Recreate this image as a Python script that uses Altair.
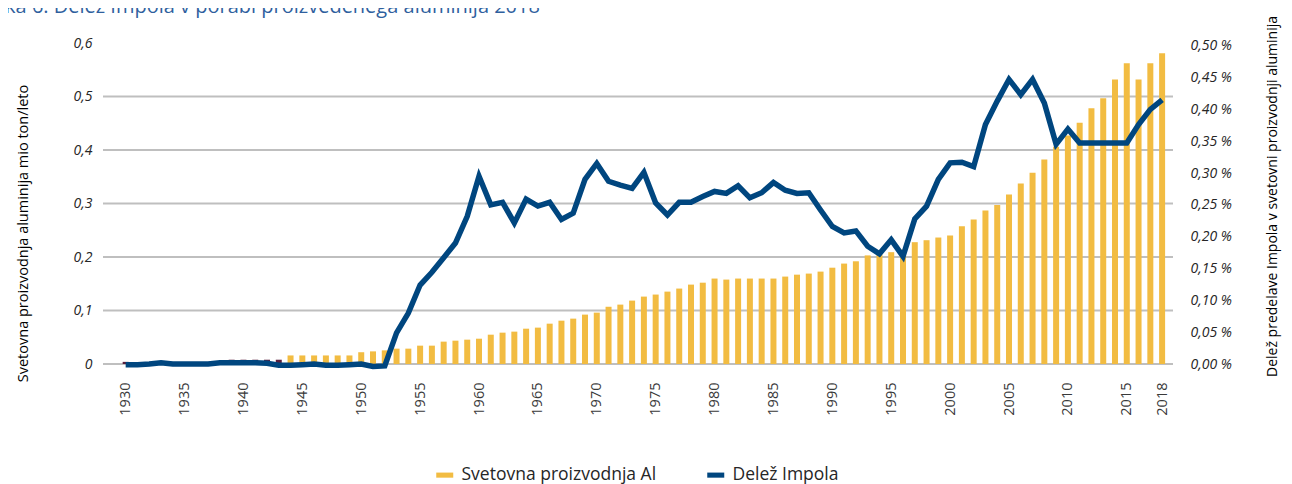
import altair as alt
import pandas as pd

# ---------------- data ----------------
series_names = ["Svetovna proizvodnja Al", "Delež Impola"]
series_colors = ["#F2BC42", "#00467F"]

prod_years = list(range(1944, 2019))
prod_values = [
    0.016, 0.016, 0.016, 0.016, 0.016, 0.016,              # 1944-1949
    0.022, 0.0236, 0.0255, 0.0287, 0.0287, 0.0343, 0.0343, 0.0418, 0.0436, 0.0455,  # 1950-1959
    0.0473, 0.0548, 0.0586, 0.0605, 0.066, 0.068, 0.0754, 0.081, 0.0848, 0.0923,   # 1960-1969
    0.096, 0.107, 0.111, 0.1185, 0.126, 0.1298, 0.1353, 0.141, 0.1484, 0.152,      # 1970-1979
    0.1597, 0.1578, 0.1597, 0.1597, 0.1597, 0.1597, 0.1634, 0.167, 0.169, 0.1727,  # 1980-1989
    0.180, 0.1877, 0.192, 0.203, 0.2046, 0.209, 0.214, 0.2277, 0.2314, 0.2364,     # 1990-1999
    0.240, 0.2576, 0.270, 0.287, 0.297, 0.317, 0.3375, 0.3575, 0.3824, 0.406,      # 2000-2009
    0.427, 0.451, 0.478, 0.4965, 0.532, 0.562, 0.532, 0.562, 0.581,                # 2010-2018
]

early_years = [1930, 1939, 1940, 1941, 1942, 1943]
early_values = [0.004, 0.008, 0.008, 0.008, 0.008, 0.008]

share_years = list(range(1930, 2019))
share_values = [
    -0.001, -0.001, 0.0, 0.002, 0.0, 0.0, 0.0, 0.0, 0.002, 0.002,              # 1930-1939
    0.002, 0.002, 0.001, -0.002, -0.002, -0.001, 0.0, -0.002, -0.002, -0.001,  # 1940-1949
    0.0, -0.004, -0.003, 0.049, 0.08, 0.124, 0.144, 0.167, 0.19, 0.232,        # 1950-1959
    0.295, 0.25, 0.254, 0.2215, 0.259, 0.248, 0.254, 0.227, 0.237, 0.29,       # 1960-1969
    0.315, 0.287, 0.281, 0.276, 0.301, 0.253, 0.234, 0.254, 0.254, 0.263,      # 1970-1979
    0.271, 0.268, 0.28, 0.261, 0.269, 0.285, 0.273, 0.268, 0.269, 0.242,       # 1980-1989
    0.216, 0.206, 0.209, 0.185, 0.173, 0.195, 0.169, 0.228, 0.248, 0.29,       # 1990-1999
    0.316, 0.317, 0.31, 0.376, 0.413, 0.447, 0.423, 0.447, 0.41, 0.345,        # 2000-2009
    0.369, 0.347, 0.347, 0.347, 0.347, 0.347, 0.376, 0.4, 0.415,               # 2010-2018
]

x_tick_years = [1930, 1935, 1940, 1945, 1950, 1955, 1960, 1965, 1970, 1975,
                1980, 1985, 1990, 1995, 2000, 2005, 2010, 2015, 2018]
left_ticks = [0, 0.1, 0.2, 0.3, 0.4, 0.5, 0.6]
grid_values = [0, 0.1, 0.2, 0.3, 0.4, 0.5]
right_ticks = [0, 0.05, 0.1, 0.15, 0.2, 0.25, 0.3, 0.35, 0.4, 0.45, 0.5]

title_text = ["Slika 6: Delež Impola v porabi proizvedenega aluminija 2018"]
left_title = "Svetovna proizvodnja aluminija mio ton/leto"
right_title = "Delež predelave Impola v svetovni proizvodnji aluminija"

# ---------------- tables ----------------
prod_df = pd.DataFrame({"year": prod_years, "value": prod_values, "series": series_names[0]})
early_df = pd.DataFrame({"year": early_years, "value": early_values})
share_df = pd.DataFrame({"year": share_years, "share": share_values})
grid_df = pd.DataFrame({"v": grid_values})
title_df = pd.DataFrame({"t": title_text})

FONT = "Open Sans"
W, H = 1070, 321

x_scale = alt.Scale(domain=[1928.5, 2018.5], nice=False, zero=False)
yl_scale = alt.Scale(domain=[0, 0.6], nice=False)
yr_scale = alt.Scale(domain=[0, 0.5042], nice=False)
color_scale = alt.Scale(domain=series_names, range=series_colors)

x_axis = alt.Axis(
    values=x_tick_years, format="d", labelAngle=270, labelAlign="right",
    labelBaseline="middle", labelPadding=18, ticks=False, tickSize=0,
    domain=False, grid=False, labelFontSize=14.5, labelColor="#3A3A3A",
    labelOverlap=False, labelFlush=False, title=None)

yl_axis = alt.Axis(
    values=left_ticks, labelExpr="replace(format(datum.value, '.1~f'), '.', ',')",
    grid=False, domain=False, ticks=False, tickSize=0, labelPadding=11,
    labelFontStyle="italic", labelFontSize=14, labelColor="#262626",
    title=left_title, titleAngle=270, titleX=-80, titleY=190,
    titleAlign="center", titleBaseline="middle", titleFontSize=14.5,
    titleFontWeight="normal", titleColor="#000000")

yr_axis = alt.Axis(
    orient="right", values=right_ticks,
    labelExpr="replace(format(datum.value, '.2f'), '.', ',') + ' %'",
    grid=False, domain=False, ticks=False, tickSize=0, labelPadding=17,
    labelFontStyle="italic", labelFontSize=14, labelColor="#262626",
    title=right_title, titleAngle=270, titleX=99, titleY=153,
    titleAlign="center", titleBaseline="middle", titleFontSize=14,
    titleFontWeight="normal", titleColor="#000000")

grid = alt.Chart(grid_df).mark_rule(color="#BFBFBF", strokeWidth=2).encode(
    y=alt.Y("v:Q", scale=yl_scale, axis=yl_axis)
)

early_bars = alt.Chart(early_df).mark_bar(size=6, color="#5A1E3C").encode(
    x=alt.X("year:Q", scale=x_scale, axis=x_axis),
    y=alt.Y("value:Q", scale=yl_scale, axis=yl_axis),
)

bars = alt.Chart(prod_df).mark_bar(size=6).encode(
    x=alt.X("year:Q", scale=x_scale, axis=x_axis),
    y=alt.Y("value:Q", scale=yl_scale, axis=yl_axis),
    color=alt.Color("series:N", scale=color_scale, legend=alt.Legend(
        title=None, orient="none", legendX=333, legendY=423, direction="horizontal",
        symbolType="M-1,-0.3H1V0.3H-1Z", symbolSize=289, symbolStrokeWidth=0,
        labelFontSize=17.5, labelColor="#262626", labelOffset=8, columnPadding=50,
        labelLimit=0, padding=0)),
)

title_mark = alt.Chart(title_df).mark_text(
    align="left", baseline="alphabetic", fontSize=20, color="#2F5F9E", font=FONT
).encode(text="t:N", x=alt.value(-119), y=alt.value(-30.5))

left_layer = alt.layer(grid, early_bars, bars, title_mark)

line = alt.Chart(share_df).mark_line(color=series_colors[1], strokeWidth=5.5).encode(
    x=alt.X("year:Q", scale=x_scale, axis=x_axis),
    y=alt.Y("share:Q", scale=yr_scale, axis=yr_axis),
)

chart = alt.layer(left_layer, line).resolve_scale(y="independent").properties(
    width=W, height=H,
    autosize=alt.AutoSizeParams(type="none"),
    padding={"left": 95, "top": 35, "right": 111, "bottom": 120},
    background="white",
).configure_view(stroke=None).configure_axis(
    labelFont=FONT, titleFont=FONT
).configure_legend(labelFont=FONT)

chart.save("out.html", embed_options={"renderer": "svg", "actions": False})
